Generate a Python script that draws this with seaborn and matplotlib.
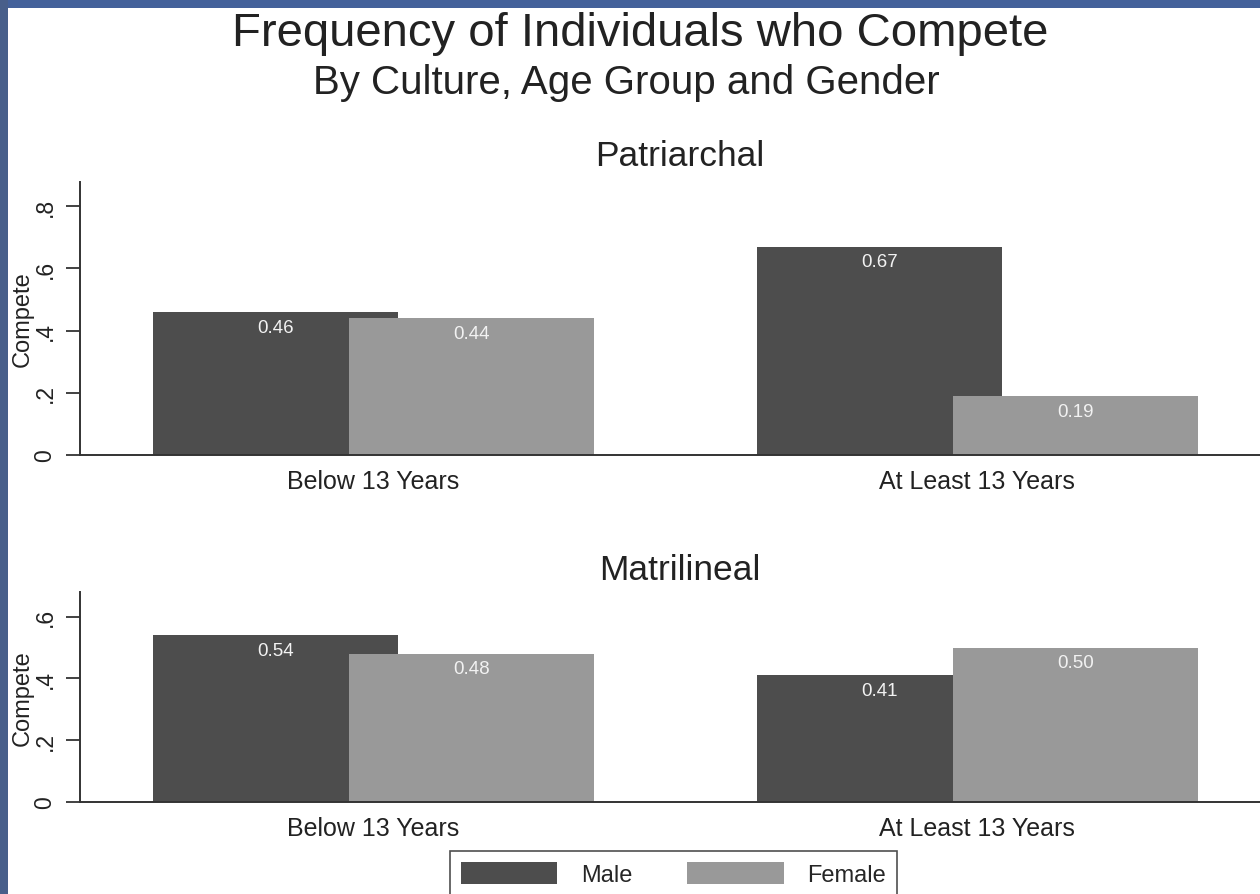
import matplotlib
matplotlib.use("Agg")
import matplotlib.pyplot as plt
from matplotlib.patches import Rectangle
import pandas as pd
import seaborn as sns

# chart values
ages = ["Below 13 Years", "At Least 13 Years"]
genders = ["Male", "Female"]
patriarchal_male = [0.46, 0.67]
patriarchal_female = [0.44, 0.19]
matrilineal_male = [0.54, 0.41]
matrilineal_female = [0.48, 0.50]

panels = [
    ("Patriarchal", patriarchal_male, patriarchal_female, [0, .2, .4, .6, .8], ["0", ".2", ".4", ".6", ".8"], 0.878),
    ("Matrilineal", matrilineal_male, matrilineal_female, [0, .2, .4, .6], ["0", ".2", ".4", ".6"], 0.68),
]

W, H = 1260, 895
MALE = "#4d4d4d"
FEMALE = "#999999"
BLUE = "#44619a"


def fx(x):
    return x / W


def fy(y):
    return 1 - y / H


def make_frame(male, female):
    return pd.DataFrame({
        "age": ages * 2,
        "gender": [genders[0]] * len(ages) + [genders[1]] * len(ages),
        "value": list(male) + list(female),
    })


sns.set_theme(style="white")
plt.rcParams["font.family"] = ["Liberation Sans", "DejaVu Sans"]

fig = plt.figure(figsize=(W / 100, H / 100), dpi=100)
fig.patch.set_facecolor("white")

# blue slide frame on top and left
fig.patches.append(Rectangle((0, fy(9)), 1, 1 - fy(9), transform=fig.transFigure,
                             facecolor=BLUE, edgecolor="none", zorder=0))
fig.patches.append(Rectangle((0, 0), fx(8), 1, transform=fig.transFigure,
                             facecolor="#485f8a", edgecolor="none", zorder=0))

axes_px = [(183, 456), (593, 803)]
title_y = [156, 570]
bar_w = 0.4056

for (name, male, female, ticks, ticklabels, ytop), (top, bottom), ty in zip(panels, axes_px, title_y):
    ax = fig.add_axes([fx(80), fy(bottom), fx(1180), (bottom - top) / H])
    df = make_frame(male, female)
    sns.barplot(data=df, x="age", y="value", hue="gender", order=ages, hue_order=genders,
                palette=[MALE, FEMALE], errorbar=None, dodge=True, width=0.649,
                saturation=1, linewidth=0, ax=ax)
    # widen bars so the two genders overlap like the original
    for p in ax.patches:
        c = p.get_x() + p.get_width() / 2
        p.set_x(c - bar_w / 2)
        p.set_width(bar_w)
    for cont in ax.containers:
        ax.bar_label(cont, fmt="%.2f", padding=-17, color="#f2f2f2", fontsize=13.5)

    if ax.get_legend() is not None:
        handles, labels = ax.get_legend_handles_labels()
        ax.get_legend().remove()

    ax.set_xlim(-0.486, 1.468)
    ax.set_ylim(0, ytop)
    ax.set_yticks(ticks)
    ax.set_yticklabels(ticklabels)
    for lab in ax.get_yticklabels():
        lab.set_rotation(90)
        lab.set_va("center")
    ax.set_xlabel("")
    ax.set_ylabel("Compete", fontsize=17, color="#222222")
    ax.yaxis.set_label_coords(-0.0395, 0.5)
    ax.tick_params(axis="y", left=True, length=10, width=1.3, color="#333333",
                   labelsize=16.5, pad=7, labelcolor="#222222")
    ax.tick_params(axis="x", bottom=False, length=0, labelsize=18, pad=10, labelcolor="#222222")
    for s in ["top", "right"]:
        ax.spines[s].set_visible(False)
    for s in ["left", "bottom"]:
        ax.spines[s].set_color("#333333")
        ax.spines[s].set_linewidth(1.4)
    ax.set_facecolor("white")

    fig.text(fx(680), fy(ty), name, ha="center", va="center", fontsize=25.5, color="#222222")

fig.text(fx(640), fy(34), "Frequency of Individuals who Compete", ha="center", va="center",
         fontsize=34, color="#222222")
fig.text(fx(626), fy(83), "By Culture, Age Group and Gender", ha="center", va="center",
         fontsize=29, color="#222222")

leg = fig.legend(handles, labels, loc="upper left", bbox_to_anchor=(fx(450), fy(852)),
                 ncol=2, fontsize=17, frameon=True, fancybox=False, borderpad=0.45,
                 borderaxespad=0, handlelength=4.1, handleheight=1.06, handletextpad=1.0,
                 columnspacing=2.3)
leg.get_frame().set_edgecolor("#222222")
leg.get_frame().set_linewidth(1.2)

fig.savefig("out.png", dpi=100, facecolor=fig.get_facecolor())
